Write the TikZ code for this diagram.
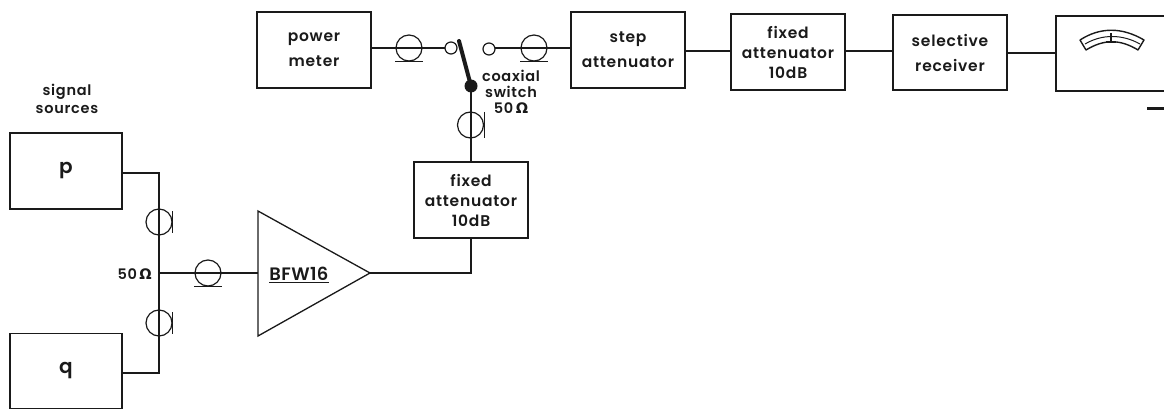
\documentclass[tikz,border=0pt]{standalone}
\usepackage{fontspec}
\setmainfont[UprightFont={* SemiBold}]{Poppins}
\newfontfamily\omegafont{DejaVu Sans}
\usetikzlibrary{calc}
\newcommand{\ohm}{{\omegafont\bfseries Ω}}
\definecolor{ink}{HTML}{1A1A1A}
\tikzset{
 lab/.style={font=\fontsize{14.5}{16}\selectfont\addfontfeatures{LetterSpace=5}, text=ink, align=center, inner sep=0pt},
 boxtext/.style={font=\fontsize{15.5}{20}\selectfont\addfontfeatures{LetterSpace=5}, text=ink, align=center, inner sep=0pt},
 box/.style={draw=ink, line width=1.5pt, rectangle, inner sep=0pt, boxtext},
 wire/.style={draw=ink, line width=2.4pt},
 coax/.style={draw=ink, line width=1.2pt, circle, minimum size=26pt, inner sep=0pt},
 bar/.style={draw=ink, line width=1.4pt},
 contact/.style={draw=ink, line width=1.2pt, fill=white, circle, minimum size=12pt, inner sep=0pt},
}
\begin{document}
\begin{tikzpicture}[x=1pt,y=-1pt]
\useasboundingbox (0,0) rectangle (1164,409);
% boxes
\node[box,minimum width=114pt,minimum height=76pt] (pm) at (314,50) {power\\[5pt]meter};
\node[box,minimum width=114pt,minimum height=76pt] (step) at (628,50) {step\\[5pt]attenuator};
\node[box,minimum width=114pt,minimum height=76pt] (fa1) at (788,52) {fixed\\attenuator\\10dB};
\node[box,minimum width=114pt,minimum height=75pt] (sel) at (950,52.5) {selective\\[5pt]receiver};
\node[box,minimum width=112pt,minimum height=76pt,font=\fontsize{20}{20}\selectfont] (p) at (66,171) {p};
\node[box,minimum width=112pt,minimum height=75pt,font=\fontsize{20}{20}\selectfont] (q) at (66,371) {q};
\node[box,minimum width=114pt,minimum height=76pt] (fa2) at (471,200) {fixed\\attenuator\\10dB};
% meter, cut off by the right margin
\coordinate (mtl) at (1056,16);
\coordinate (mbl) at (1056,91);
\draw[ink,line width=1.5pt] (1164,16) -- (mtl) -- (mbl) -- (1164,91);
\draw[ink,line width=1.4pt,line join=round] (1080,40) .. controls (1100,27) and (1122,27) .. (1144,40) -- (1138,50) .. controls (1120,39) and (1104,39) .. (1086,50) -- cycle;
\draw[ink,line width=1pt] (1085,44) .. controls (1102,34) and (1122,34) .. (1140,44);
\draw[ink,line width=1.3pt] (1111,33) -- (1111,42) (1106,42) -- (1116,42);
\fill[ink] (1147,107) rectangle (1164,110);
% amplifier
\coordinate (ampa) at (258,211);
\coordinate (ampb) at (258,336);
\coordinate (amptip) at (370,273);
\draw[ink,line width=1.3pt,line join=miter] (ampa) -- (amptip) -- (ampb) -- cycle;
\node[boxtext,font=\fontsize{18}{20}\selectfont\addfontfeatures{LetterSpace=2}] (bfw) at (299,275) {\underline{BFW16}};
% coaxial elements and switch
\node[coax] (cx1) at (409,48) {};
\node[coax] (cx2) at (534,48) {};
\node[coax] (cx3) at (470.5,125) {};
\node[coax] (cx4) at (159,222) {};
\node[coax] (cx5) at (159,323) {};
\node[coax] (cx6) at (208,273) {};
\coordinate (piv) at (471,86);
\coordinate (arm) at (459,41);
\coordinate (jn) at (159,273);
\coordinate (bp) at (159,173);
\coordinate (bq) at (159,373);
% wires
\draw[wire] (pm.east |- cx1) -- (cx1.center) -- (445,48);
\draw[wire] (495,48) -- (cx2.center) -- (step.west |- cx2);
\draw[wire] (step.east |- 0,51) -- (fa1.west |- 0,51);
\draw[wire] (fa1.east |- 0,51) -- (sel.west |- 0,51);
\draw[wire] (sel.east |- 0,53) -- (1056,53);
\draw[wire] (p.east |- bp) -- (bp) -- (jn) -- (bq) -- (q.east |- bq);
\draw[wire] (jn) -- (cx6.center) -- (ampa |- jn);
\draw[wire] (amptip) -| (fa2.south);
\draw[wire] (fa2.north) -- (piv);
% contacts and arm
\node[contact] (lc) at (451,48) {};
\node[contact] (rc) at (489,49) {};
\draw[ink,line width=4pt,line cap=round] (piv) -- (arm);
\fill[ink] (piv) circle (6.5pt);
% shield marks
\draw[bar] ($(cx1.south)+(-14,0)$) -- ($(cx1.south)+(14,0)$);
\draw[bar] ($(cx2.south)+(-14,0)$) -- ($(cx2.south)+(14,0)$);
\draw[bar] ($(cx6.south)+(-14,0)$) -- ($(cx6.south)+(14,0)$);
\draw[bar] ($(cx3.east)+(0.5,-13)$) -- ($(cx3.east)+(0.5,13)$);
\draw[bar] ($(cx4.east)+(0,-11)$) -- ($(cx4.east)+(0,11)$);
\draw[bar] ($(cx5.east)+(0,-11)$) -- ($(cx5.east)+(0,11)$);
% free labels
\node[lab,font=\fontsize{14.5}{18}\selectfont\addfontfeatures{LetterSpace=5}] (ss) at (67,99) {signal\\sources};
\node[lab] (cs) at (511,92) {coaxial\\switch\\50\,\ohm};
\node[lab,anchor=east] (fifty) at (152,274) {50\,\ohm};
\end{tikzpicture}
\end{document}
